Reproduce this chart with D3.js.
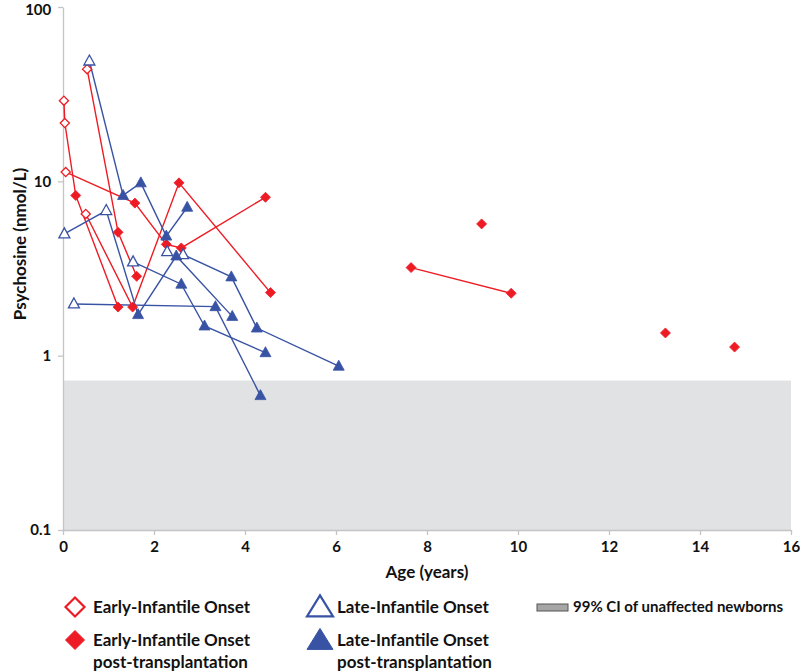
<!DOCTYPE html>
<html>
<head>
<meta charset="utf-8">
<script src="https://cdn.jsdelivr.net/npm/d3@7"></script>
<style>
  html, body { margin: 0; padding: 0; background: #fff; }
  svg text { font-family: Lato, "Open Sans", sans-serif; font-weight: 700; fill: #111; }
</style>
</head>
<body>
<svg id="chart" width="800" height="671"></svg>
<script>
// ---- data (age in years, psychosine nmol/L) ----
const xTicks = [0, 2, 4, 6, 8, 10, 12, 14, 16];
const yTicks = [0.1, 1, 10, 100];
const ciBand = [0.1, 0.72]; // 99% CI of unaffected newborns

// Early-infantile onset (open diamonds)
const earlyOnset = [[0.02, 29], [0.04, 21.6], [0.06, 11.3], [0.5, 6.5], [0.53, 44]];
// Early-infantile onset post-transplantation (filled diamonds)
const earlyPost = [[0.28, 8.3], [1.21, 1.9], [1.58, 7.5], [2.27, 4.35], [2.6, 4.15], [4.45, 8.1],
  [1.53, 1.9], [2.55, 9.8], [4.56, 2.3], [1.21, 5.1], [1.62, 2.85],
  [7.65, 3.2], [9.85, 2.28], [9.2, 5.7], [13.24, 1.35], [14.76, 1.12]];
// Late-infantile onset (open triangles)
const lateOnset = [[0.58, 49], [0.03, 5.0], [0.95, 6.8], [1.54, 3.45], [0.24, 1.98], [2.29, 3.95], [2.64, 3.8]];
// Late-infantile onset post-transplantation (filled triangles)
const latePost = [[1.32, 8.3], [1.71, 9.8], [2.27, 4.85], [2.73, 7.1], [1.65, 1.72], [2.49, 3.73],
  [3.72, 1.68], [3.35, 1.91], [4.34, 0.59], [2.6, 2.57], [3.11, 1.48], [4.45, 1.04],
  [3.7, 2.83], [4.26, 1.44], [6.06, 0.87]];

// patient trajectories (connecting lines)
const earlyPatients = [
  [[0.02, 29], [0.04, 21.6], [0.28, 8.3], [1.21, 1.9]],
  [[0.06, 11.3], [1.58, 7.5], [2.27, 4.35], [2.6, 4.15], [4.45, 8.1]],
  [[0.5, 6.5], [1.53, 1.9], [2.55, 9.8], [4.56, 2.3]],
  [[0.53, 44], [1.21, 5.1], [1.62, 2.85]],
  [[7.65, 3.2], [9.85, 2.28]]
];
const latePatients = [
  [[0.58, 49], [1.32, 8.3], [1.71, 9.8], [2.27, 4.85], [2.73, 7.1]],
  [[0.03, 5.0], [0.95, 6.8], [1.65, 1.72], [2.49, 3.73], [3.72, 1.68]],
  [[0.24, 1.98], [3.35, 1.91], [4.34, 0.59]],
  [[1.54, 3.45], [2.6, 2.57], [3.11, 1.48], [4.45, 1.04]],
  [[2.64, 3.8], [3.7, 2.83], [4.26, 1.44], [6.06, 0.87]]
];

const legendItems = [
  { label: ["Early-Infantile Onset"], shape: "diamond", filled: false, color: "#ed1c24" },
  { label: ["Early-Infantile Onset", "post-transplantation"], shape: "diamond", filled: true, color: "#ed1c24" },
  { label: ["Late-Infantile Onset"], shape: "triangle", filled: false, color: "#3953a4" },
  { label: ["Late-Infantile Onset", "post-transplantation"], shape: "triangle", filled: true, color: "#3953a4" }
];

// ---- layout ----
const RED = "#ed1c24", BLUE = "#3953a4", AXIS = "#c4c4c4";
const svg = d3.select("#chart");
const x = d3.scaleLinear().domain([0, 16]).range([63, 791]);
const y = d3.scaleLog().domain([0.1, 100]).range([530, 7]);

// CI band
svg.append("rect")
  .attr("x", x(0)).attr("y", y(ciBand[1]))
  .attr("width", x(16) - x(0)).attr("height", y(ciBand[0]) - y(ciBand[1]))
  .attr("fill", "#e1e2e4");

// axes
const xAxis = svg.append("g").attr("transform", `translate(0,${y(0.1)})`)
  .call(d3.axisBottom(x).tickValues(xTicks).tickSize(5).tickSizeOuter(0).tickFormat(d3.format("d")));
const yAxis = svg.append("g").attr("transform", `translate(${x(0)},0)`)
  .call(d3.axisLeft(y).tickValues(yTicks).tickSize(5).tickSizeOuter(0).tickFormat(d => String(d)));
[xAxis, yAxis].forEach(g => {
  g.selectAll("path, line").attr("stroke", AXIS).attr("stroke-width", 1.3);
  g.selectAll("text").attr("font-size", 15).attr("fill", "#111")
    .style("font-family", "Lato, sans-serif").style("font-weight", 700);
});
xAxis.selectAll("text").attr("dy", "0.95em");
yAxis.selectAll("text").attr("dx", "-0.25em");
yAxis.selectAll(".tick text").filter(d => d === 100).attr("dy", "0.5em");

// axis titles
svg.append("text").attr("x", (x(0) + x(16)) / 2).attr("y", 578)
  .attr("text-anchor", "middle").attr("font-size", 17).text("Age (years)");
svg.append("text").attr("transform", "translate(26,244) rotate(-90)")
  .attr("text-anchor", "middle").attr("font-size", 17).text("Psychosine (nmol/L)");

// lines
const line = d3.line().x(d => x(d[0])).y(d => y(d[1]));
svg.append("g").selectAll("path").data(earlyPatients).join("path")
  .attr("d", line).attr("fill", "none").attr("stroke", RED).attr("stroke-width", 1.4);
svg.append("g").selectAll("path").data(latePatients).join("path")
  .attr("d", line).attr("fill", "none").attr("stroke", BLUE).attr("stroke-width", 1.4);

// marker shapes
const diamondPath = s => `M0,${-s}L${s},0L0,${s}L${-s},0Z`;
const trianglePath = (w, h) => `M0,${-h * 0.6}L${w / 2},${h * 0.4}L${-w / 2},${h * 0.4}Z`;

function drawMarkers(data, pathStr, filled, color) {
  svg.append("g").selectAll("path").data(data).join("path")
    .attr("transform", d => `translate(${x(d[0])},${y(d[1])})`)
    .attr("d", pathStr)
    .attr("fill", filled ? color : "#fff")
    .attr("stroke", color).attr("stroke-width", filled ? 0.8 : 1.3);
}
drawMarkers(earlyOnset, diamondPath(4.6), false, RED);
drawMarkers(earlyPost, diamondPath(5), true, RED);
drawMarkers(lateOnset, trianglePath(11, 10), false, BLUE);
drawMarkers(latePost, trianglePath(11, 10), true, BLUE);

// legend
const legPos = [
  { mx: 75, tx: 93, ty: 607 },
  { mx: 75, tx: 93, ty: 640 },
  { mx: 320, tx: 337, ty: 607 },
  { mx: 320, tx: 337, ty: 640 }
];
legendItems.forEach((it, i) => {
  const p = legPos[i];
  const g = svg.append("g");
  const pth = it.shape === "diamond" ? diamondPath(9.5) : trianglePath(26, 21);
  g.append("path").attr("transform", `translate(${p.mx},${p.ty + (it.shape === "triangle" ? 1 : 0)})`)
    .attr("d", pth).attr("fill", it.filled ? it.color : "#fff")
    .attr("stroke", it.color).attr("stroke-width", it.filled ? 1 : 2.2);
  it.label.forEach((t, j) => {
    g.append("text").attr("x", p.tx).attr("y", p.ty + j * 22).attr("dy", "0.35em")
      .attr("font-size", 17).text(t);
  });
});
svg.append("rect").attr("x", 537).attr("y", 604).attr("width", 31).attr("height", 7)
  .attr("fill", "#a6a6a6").attr("stroke", "#555").attr("stroke-width", 1);
svg.append("text").attr("x", 573).attr("y", 607).attr("dy", "0.35em")
  .attr("font-size", 15).text("99% CI of unaffected newborns");
</script>
</body>
</html>
